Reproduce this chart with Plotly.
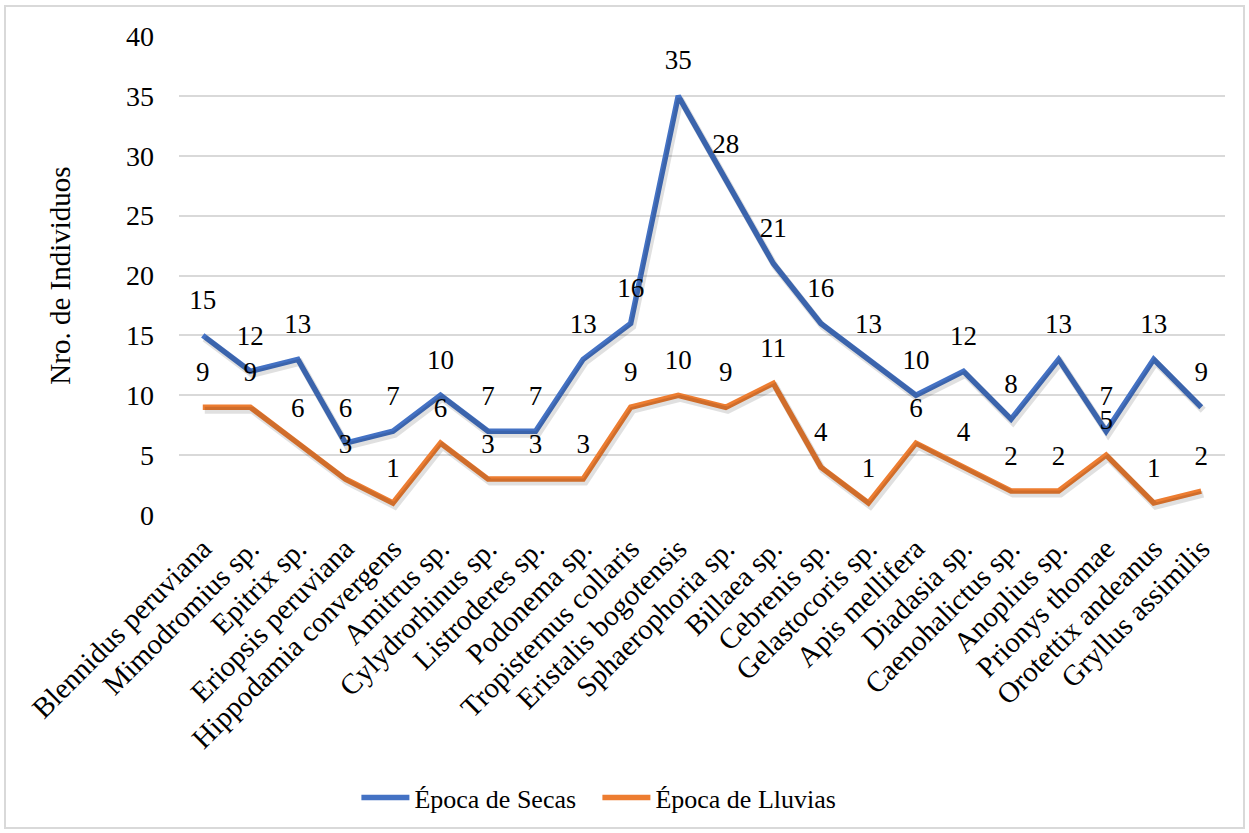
import plotly.graph_objects as go

especies = [
    "Blennidus peruviana", "Mimodromius sp.", "Epitrix sp.", "Eriopsis peruviana",
    "Hippodamia convergens", "Amitrus sp.", "Cylydrorhinus sp.", "Listroderes sp.",
    "Podonema sp.", "Tropisternus collaris", "Eristalis bogotensis", "Sphaerophoria sp.",
    "Billaea sp.", "Cebrenis sp.", "Gelastocoris sp.", "Apis mellifera",
    "Diadasia sp.", "Caenohalictus sp.", "Anoplius sp.", "Prionys thomae",
    "Orotettix andeanus", "Gryllus assimilis",
]
secas = [15, 12, 13, 6, 7, 10, 7, 7, 13, 16, 35, 28, 21, 16, 13, 10, 12, 8, 13, 7, 13, 9]
lluvias = [9, 9, 6, 3, 1, 6, 3, 3, 3, 9, 10, 9, 11, 4, 1, 6, 4, 2, 2, 5, 1, 2]
y_ticks = [0, 5, 10, 15, 20, 25, 30, 35, 40]

FONT = "Liberation Serif, Times New Roman, serif"
W, H = 1249, 833
L, R, T, B = 179, 24, 36, 318
PW, PH = W - L - R, H - T - B
series = [
    ("Época de Secas", secas, "#4472C4"),
    ("Época de Lluvias", lluvias, "#ED7D31"),
]
n = len(especies)
x_range = [-0.5, n - 0.5]
y_range = [0, 40]

fig = go.Figure()

# soft drop shadow: same series on an overlay axis pair whose range is nudged by a few pixels
for nombre, vals, color in series:
    fig.add_trace(go.Scatter(
        x=especies, y=vals, mode="lines", xaxis="x2", yaxis="y2",
        line=dict(color="rgba(0,0,0,0.12)", width=7),
        showlegend=False, hoverinfo="skip",
    ))

for nombre, vals, color in series:
    fig.add_trace(go.Scatter(
        x=especies, y=vals, name=nombre, mode="lines+markers+text",
        line=dict(color=color, width=5.5),
        marker=dict(size=30, color="rgba(0,0,0,0)"),
        text=[str(v) for v in vals], textposition="top center",
        textfont=dict(family=FONT, size=27, color="black"),
        cliponaxis=False,
    ))

sx = 2 * n / PW
sy = 3 * 40 / PH
fig.update_layout(
    width=W, height=H,
    margin=dict(l=L, r=R, t=T, b=B),
    paper_bgcolor="white", plot_bgcolor="rgba(0,0,0,0)",
    font=dict(family=FONT, size=27, color="black"),
    showlegend=True,
    legend=dict(orientation="h", x=0.40, xanchor="center", y=-0.59, yanchor="middle",
                font=dict(family=FONT, size=26), entrywidth=178, itemwidth=48),
    xaxis=dict(
        tickangle=-45, showgrid=False, showline=False, zeroline=False,
        tickfont=dict(family=FONT, size=29), ticklabelstandoff=10,
        range=x_range,
    ),
    yaxis=dict(
        range=y_range, tickvals=y_ticks, showgrid=True, gridcolor="#D9D9D9",
        gridwidth=1.5, zeroline=False, showline=False,
        tickfont=dict(family=FONT, size=28), ticklabelstandoff=24,
        title=dict(text="Nro. de Individuos", font=dict(family=FONT, size=29), standoff=46),
    ),
    xaxis2=dict(overlaying="x", visible=False, anchor="y2",
                range=[x_range[0] - sx, x_range[1] - sx]),
    yaxis2=dict(overlaying="y", visible=False, anchor="x2",
                range=[y_range[0] + sy, y_range[1] + sy]),
    shapes=[dict(type="rect", xref="paper", yref="paper",
                 x0=-174 / PW, x1=1 + 19 / PW, y0=-313 / PH, y1=1 + 30 / PH,
                 line=dict(color="#D9D9D9", width=2))],
)

fig.write_html("out.html")
